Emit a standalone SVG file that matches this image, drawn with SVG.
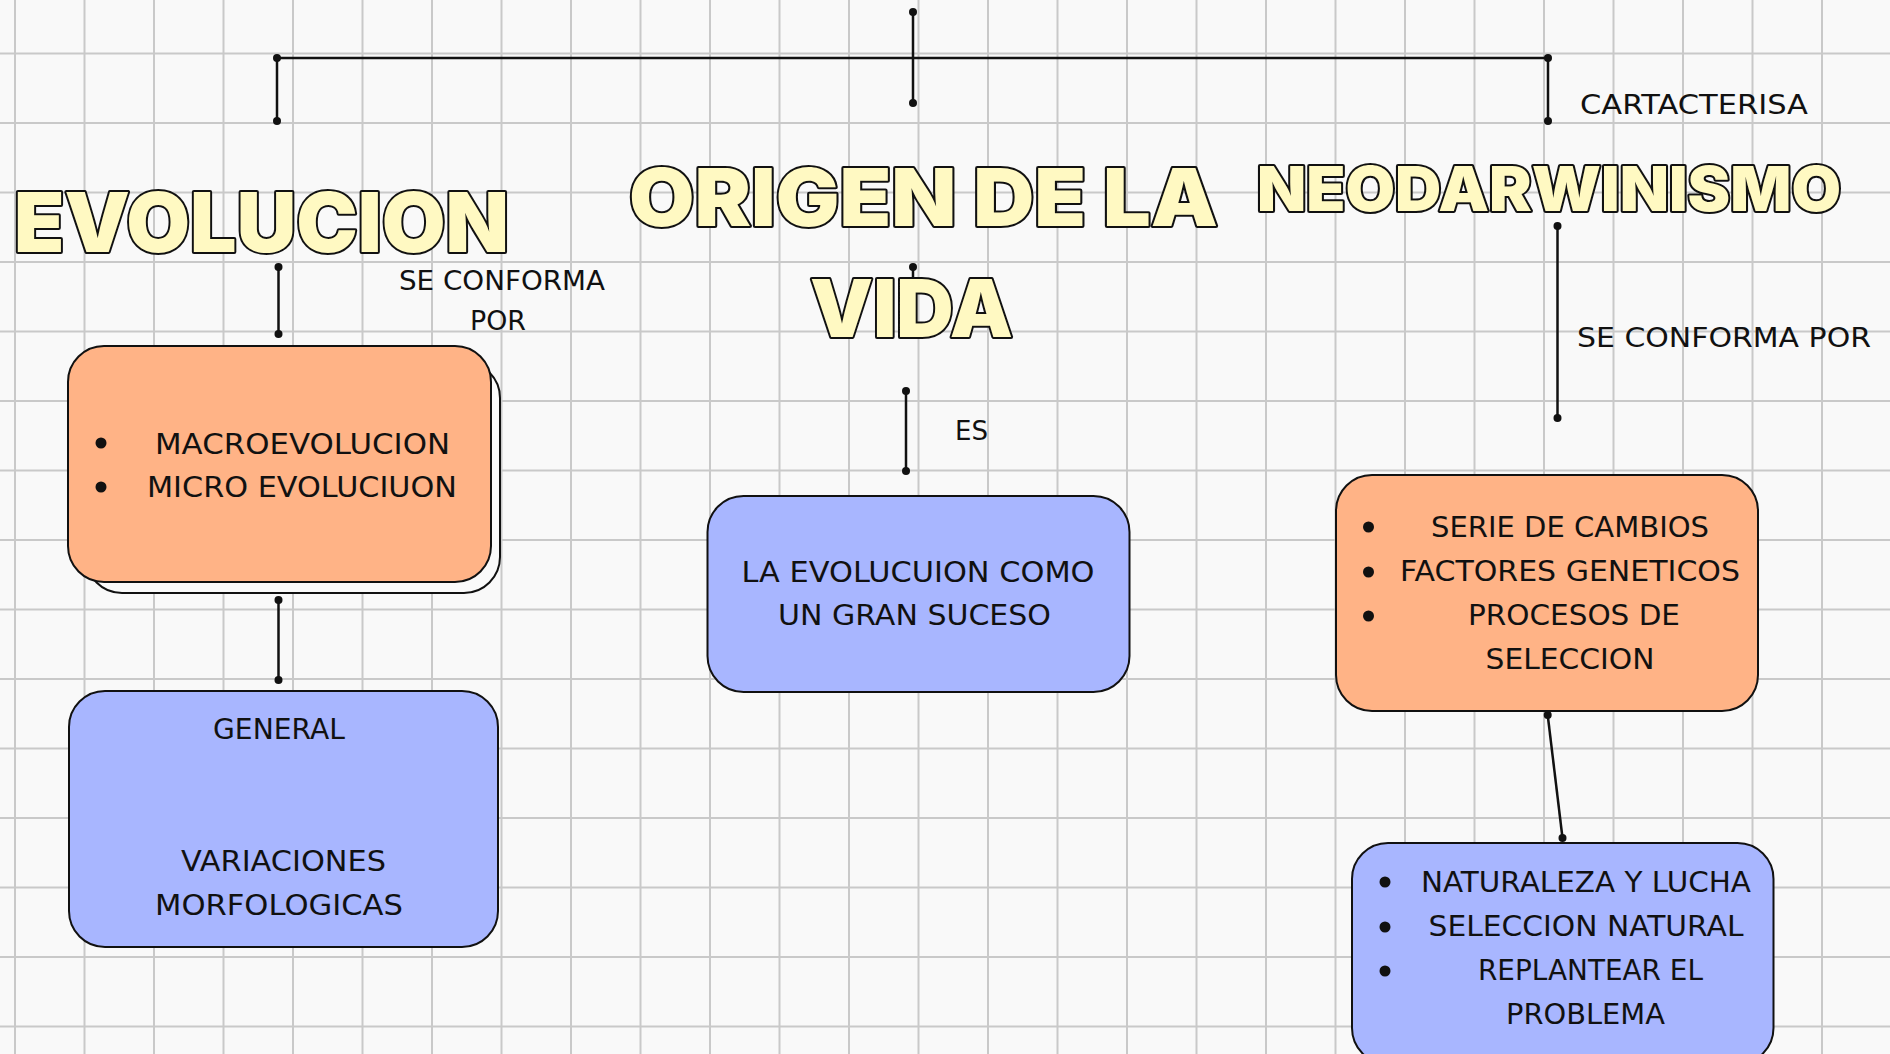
<svg xmlns="http://www.w3.org/2000/svg" width="1890" height="1054" viewBox="0 0 1890 1054">
<defs>
<style>
.grid{stroke:#c9c9c9;stroke-width:2;fill:none}
.conn{stroke:#111;stroke-width:2.5;fill:none}
.dot{fill:#111}
.orange{fill:#ffb386;stroke:#111;stroke-width:2}
.blue{fill:#a8b6ff;stroke:#111;stroke-width:2}
.shadow{fill:#fafafa;stroke:#111;stroke-width:2}
.t{font-family:"DejaVu Sans","Noto Sans",sans-serif;font-size:29px;fill:#111;text-anchor:middle}
.lbl{font-family:"DejaVu Sans","Noto Sans",sans-serif;font-size:26px;fill:#111}
.title{font-family:"Inter","DejaVu Sans",sans-serif;font-weight:900;fill:#fff9c2;stroke:#111;stroke-width:4;stroke-linejoin:round;paint-order:stroke fill}
.bul{fill:#111}
</style>
</defs>
<rect width="1890" height="1054" fill="#f9f9f9"/>
<path class="grid" d="M15 0V1054M84.5 0V1054M154 0V1054M223.5 0V1054M293 0V1054M362.5 0V1054M432 0V1054M501.5 0V1054M571 0V1054M640.5 0V1054M710 0V1054M779.5 0V1054M849 0V1054M918.5 0V1054M988 0V1054M1057.5 0V1054M1127 0V1054M1196.5 0V1054M1266 0V1054M1335.5 0V1054M1405 0V1054M1474.5 0V1054M1544 0V1054M1613.5 0V1054M1683 0V1054M1752.5 0V1054M1822 0V1054M0 53.5H1890M0 123H1890M0 192.5H1890M0 262H1890M0 331.5H1890M0 401H1890M0 470.5H1890M0 540H1890M0 609.5H1890M0 679H1890M0 748.5H1890M0 818H1890M0 887.5H1890M0 957H1890M0 1026.5H1890"/>

<g id="connectors">
<path class="conn" d="M277 58H1548M277 58V121M913 12V103M1548 58V121"/>
<circle class="dot" cx="277" cy="58" r="4"/><circle class="dot" cx="277" cy="121" r="4"/>
<circle class="dot" cx="913" cy="12" r="4"/><circle class="dot" cx="913" cy="103" r="4"/>
<circle class="dot" cx="1548" cy="58" r="4"/><circle class="dot" cx="1548" cy="121" r="4"/>
<path class="conn" d="M278.5 267V334"/><circle class="dot" cx="278.5" cy="267" r="4"/><circle class="dot" cx="278.5" cy="334" r="4"/>
<path class="conn" d="M278.5 600V680"/><circle class="dot" cx="278.5" cy="600" r="4"/><circle class="dot" cx="278.5" cy="680" r="4"/>
<path class="conn" d="M913 267V300"/><circle class="dot" cx="913" cy="267" r="4"/>
<path class="conn" d="M906 391V471"/><circle class="dot" cx="906" cy="391" r="4"/><circle class="dot" cx="906" cy="471" r="4"/>
<path class="conn" d="M1557.5 226V418"/><circle class="dot" cx="1557.5" cy="226" r="4"/><circle class="dot" cx="1557.5" cy="418" r="4"/>
<path class="conn" d="M1547.7 715L1562.5 838"/><circle class="dot" cx="1547.7" cy="715" r="4"/><circle class="dot" cx="1562.5" cy="838" r="4"/>
<text class="lbl" x="502" y="290" text-anchor="middle" textLength="206" lengthAdjust="spacingAndGlyphs">SE CONFORMA</text>
<text class="lbl" x="498" y="330" text-anchor="middle" textLength="56" lengthAdjust="spacingAndGlyphs">POR</text>
<text class="lbl" x="955" y="440" textLength="33" lengthAdjust="spacingAndGlyphs">ES</text>
<text class="lbl" x="1580" y="114" textLength="228" lengthAdjust="spacingAndGlyphs" style="font-size:27px">CARTACTERISA</text>
<text class="lbl" x="1577" y="347" textLength="294" lengthAdjust="spacingAndGlyphs" style="font-size:27px">SE CONFORMA POR</text>
</g>

<g id="title-evolucion">
<text class="title" x="14" y="252" font-size="82" textLength="495" lengthAdjust="spacingAndGlyphs">EVOLUCION</text>
</g>
<g id="title-origen">
<text class="title" x="629" y="226" font-size="80" textLength="589" lengthAdjust="spacingAndGlyphs">ORIGEN DE LA</text>
<text class="title" x="810" y="337" font-size="80" textLength="203" lengthAdjust="spacingAndGlyphs">VIDA</text>
</g>
<g id="title-neodarwinismo">
<text class="title" x="1257" y="211" font-size="62" textLength="584" lengthAdjust="spacingAndGlyphs">NEODARWINISMO</text>
</g>

<g id="node-macro">
<rect class="shadow" x="86" y="362" width="414" height="231" rx="36"/>
<rect class="orange" x="68" y="346" width="423" height="236" rx="36"/>
<circle class="bul" cx="101" cy="443" r="5.5"/><circle class="bul" cx="101" cy="487" r="5.5"/>
<text class="t" x="302.5" y="454" textLength="295" lengthAdjust="spacingAndGlyphs">MACROEVOLUCION</text>
<text class="t" x="302" y="497" textLength="310" lengthAdjust="spacingAndGlyphs">MICRO EVOLUCIUON</text>
</g>

<g id="node-general">
<rect class="blue" x="69" y="691" width="429" height="256" rx="36"/>
<text class="t" x="279" y="739" textLength="132" lengthAdjust="spacingAndGlyphs">GENERAL</text>
<text class="t" x="283.5" y="871" textLength="205" lengthAdjust="spacingAndGlyphs">VARIACIONES</text>
<text class="t" x="279" y="915" textLength="248" lengthAdjust="spacingAndGlyphs">MORFOLOGICAS</text>
</g>

<g id="node-suceso">
<rect class="blue" x="707.5" y="496" width="422" height="196" rx="36"/>
<text class="t" x="918" y="582" textLength="353" lengthAdjust="spacingAndGlyphs">LA EVOLUCUION COMO</text>
<text class="t" x="914.5" y="625" textLength="273" lengthAdjust="spacingAndGlyphs">UN GRAN SUCESO</text>
</g>

<g id="node-cambios">
<rect class="orange" x="1336" y="475" width="422" height="236" rx="36"/>
<circle class="bul" cx="1368.5" cy="527" r="5.5"/><circle class="bul" cx="1368.5" cy="572" r="5.5"/><circle class="bul" cx="1368.5" cy="616" r="5.5"/>
<text class="t" x="1570" y="537" textLength="278" lengthAdjust="spacingAndGlyphs">SERIE DE CAMBIOS</text>
<text class="t" x="1570" y="581" textLength="340" lengthAdjust="spacingAndGlyphs">FACTORES GENETICOS</text>
<text class="t" x="1574" y="625" textLength="212" lengthAdjust="spacingAndGlyphs">PROCESOS DE</text>
<text class="t" x="1570" y="669" textLength="169" lengthAdjust="spacingAndGlyphs">SELECCION</text>
</g>

<g id="node-seleccion">
<rect class="blue" x="1352" y="843" width="421.5" height="221" rx="36"/>
<circle class="bul" cx="1385" cy="882" r="5.5"/><circle class="bul" cx="1385" cy="927" r="5.5"/><circle class="bul" cx="1385" cy="971" r="5.5"/>
<text class="t" x="1586" y="892" textLength="330" lengthAdjust="spacingAndGlyphs">NATURALEZA Y LUCHA</text>
<text class="t" x="1586" y="936" textLength="315" lengthAdjust="spacingAndGlyphs">SELECCION NATURAL</text>
<text class="t" x="1590.5" y="980" textLength="225" lengthAdjust="spacingAndGlyphs">REPLANTEAR EL</text>
<text class="t" x="1585.5" y="1024" textLength="159" lengthAdjust="spacingAndGlyphs">PROBLEMA</text>
</g>
</svg>
